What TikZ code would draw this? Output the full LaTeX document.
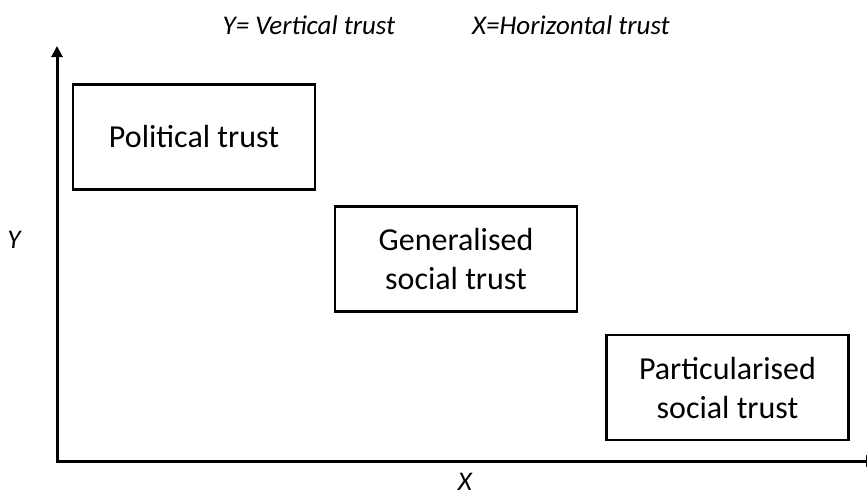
\documentclass[tikz,border=0pt]{standalone}
\usepackage{fontspec}
\setmainfont{Carlito}
\usetikzlibrary{arrows.meta}
\begin{document}
\begin{tikzpicture}[x=1pt, y=-1pt,
    trustbox/.style ={draw, line width=2.2pt, minimum width=242pt, minimum height=105pt,
      inner sep=0pt, align=center, font=\fontsize{32}{39}\selectfont},
    axislabel/.style ={inner sep=1pt, font=\fontsize{27}{30}\selectfont\itshape},
    axis/.style ={line width=3pt, -{Triangle[length=11pt, width=11pt]}}]
   \useasboundingbox (0,0) rectangle (867,496);

   \node[axislabel] (ytitle) at (309,25)  {Y= Vertical trust};
   \node[axislabel] (xtitle) at (571,25)  {X=Horizontal trust};

   \coordinate (origin) at (57,461);
   \coordinate (ytop)   at (57,46);
   \coordinate (xend)   at (877,461);

   \node[trustbox] (political)      at (194,137)   {Political trust};
   \node[trustbox] (generalised)    at (456,259)   {Generalised\\social trust};
   \node[trustbox] (particularised) at (727.5,387.5) {Particularised\\social trust};

   \node[axislabel] (ylabel) at (14,240)  {Y};
   \node[axislabel] (xlabel) at (465,482) {X};

   \draw[axis, line cap=rect] (origin) to  (ytop);
   \draw[axis] (origin) to  (xend);
 \end{tikzpicture}
\end{document}
